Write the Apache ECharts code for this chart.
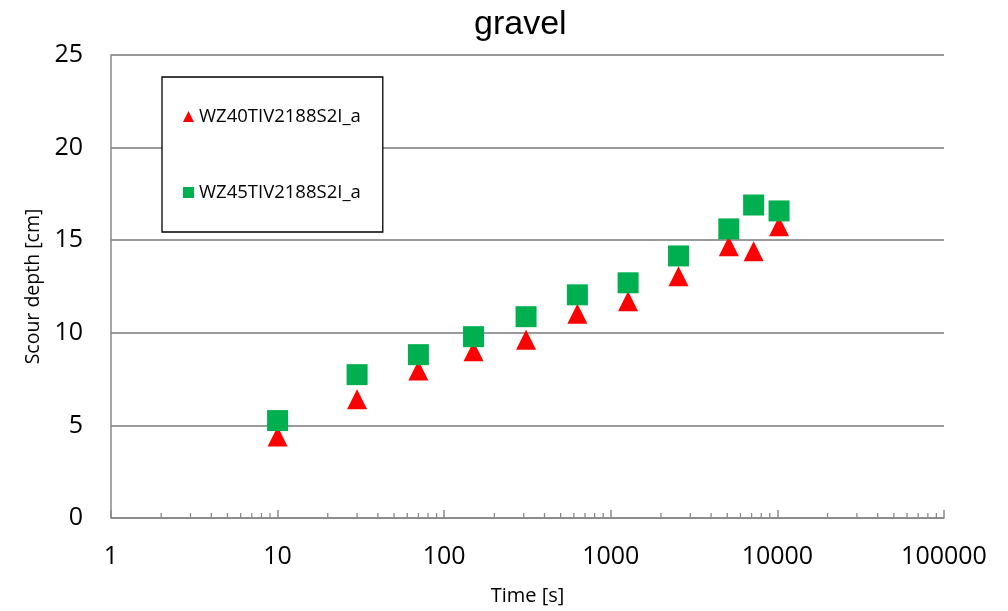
<!DOCTYPE html>
<html>
<head>
<meta charset="utf-8">
<title>gravel</title>
<script src="https://cdn.jsdelivr.net/npm/echarts@6/dist/echarts.min.js"></script>
<style>
  html, body { margin: 0; padding: 0; background: #ffffff; }
  #chart { width: 1008px; height: 611px; }
</style>
</head>
<body>
<div id="chart"></div>
<script>
// Elapsed time of each reading [s]
const times = [10, 30, 70, 150, 310, 630, 1270, 2550, 5110, 7200, 10230];
// Scour depth [cm] for each run
const wz40 = [4.40, 6.41, 7.97, 9.01, 9.63, 11.03, 11.71, 13.06, 14.67, 14.40, 15.75];
const wz45 = [5.26, 7.74, 8.82, 9.79, 10.87, 12.05, 12.70, 14.15, 15.61, 16.90, 16.58];
const seriesNames = ['WZ40TIV2188S2I_a', 'WZ45TIV2188S2I_a'];
// Minor tick positions on the log time axis (2..9 within each decade)
const minorTicks = [];
for (let d = 1; d <= 10000; d *= 10) {
  for (let m = 2; m <= 9; m++) minorTicks.push(m * d);
}

const axisGray = '#898989';
const gridGray = '#9a9a9a';
const labelFont = '"Open Sans", "DejaVu Sans", sans-serif';

const chart = echarts.init(document.getElementById('chart'), null, { renderer: 'canvas' });

chart.setOption({
  backgroundColor: '#ffffff',
  animation: false,
  title: {
    text: 'gravel',
    left: 469,
    top: 3,
    textStyle: { fontFamily: '"Liberation Sans", Arial, sans-serif', fontSize: 34, fontWeight: 'normal', color: '#000000' }
  },
  legend: {
    data: seriesNames,
    orient: 'vertical',
    left: 162,
    top: 77,
    padding: [30, 22, 30, 21],
    itemGap: 57,
    itemWidth: 11,
    itemHeight: 11,
    backgroundColor: '#ffffff',
    borderColor: '#000000',
    borderWidth: 1.3,
    borderRadius: 0,
    textStyle: { fontFamily: labelFont, fontSize: 18.5, color: '#000000' }
  },
  grid: { left: 111, right: 64, top: 55, bottom: 92, containLabel: false },
  xAxis: {
    type: 'log',
    logBase: 10,
    min: 1,
    max: 100000,
    splitNumber: 5,
    name: 'Time [s]',
    nameLocation: 'middle',
    nameGap: 68,
    nameTextStyle: { fontFamily: labelFont, fontSize: 20, color: '#000000' },
    axisLine: { show: true, lineStyle: { color: axisGray, width: 1.5 } },
    axisTick: { show: true, inside: true, length: 8, lineStyle: { color: axisGray, width: 1.5 } },
    axisLabel: {
      margin: 26,
      fontFamily: labelFont,
      fontSize: 25,
      color: '#000000',
      formatter: v => String(Math.round(v))
    },
    splitLine: { show: false }
  },
  yAxis: {
    type: 'value',
    min: 0,
    max: 25,
    interval: 5,
    name: 'Scour depth [cm]',
    nameLocation: 'middle',
    nameGap: 68,
    nameTextStyle: { fontFamily: labelFont, fontSize: 19.5, color: '#000000' },
    axisLine: { show: true, lineStyle: { color: axisGray, width: 1.5 } },
    axisTick: { show: false },
    axisLabel: { margin: 28, fontFamily: labelFont, fontSize: 25, color: '#000000' },
    splitLine: { show: true, lineStyle: { color: gridGray, width: 1.8 } }
  },
  series: [
    {
      name: 'minor ticks',
      type: 'custom',
      silent: true,
      z: 1,
      data: minorTicks.map(v => [v, 0]),
      renderItem: (params, api) => {
        const p = api.coord([api.value(0), api.value(1)]);
        return {
          type: 'line',
          shape: { x1: p[0], y1: p[1], x2: p[0], y2: p[1] - 5 },
          style: { stroke: axisGray, lineWidth: 1.3 }
        };
      }
    },
    {
      name: seriesNames[0],
      type: 'scatter',
      symbol: 'triangle',
      symbolSize: 20,
      itemStyle: { color: '#ff0000', opacity: 1 },
      z: 3,
      data: times.map((t, i) => [t, wz40[i]])
    },
    {
      name: seriesNames[1],
      type: 'scatter',
      symbol: 'rect',
      symbolSize: 21,
      itemStyle: { color: '#00b050', opacity: 1 },
      z: 4,
      data: times.map((t, i) => [t, wz45[i]])
    }
  ]
});
</script>
</body>
</html>
